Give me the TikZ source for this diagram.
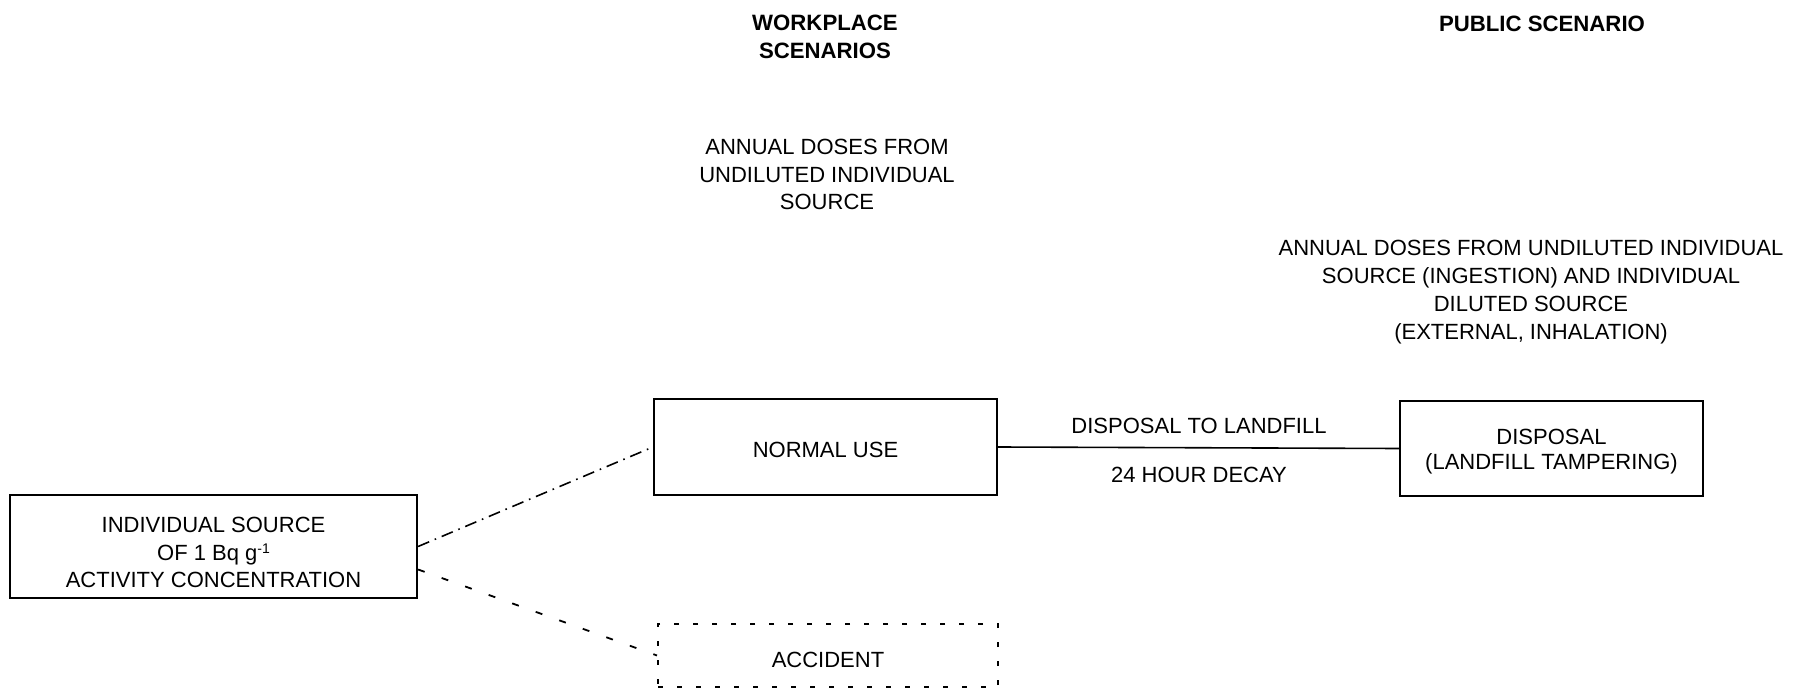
\documentclass[tikz,border=0pt]{standalone}
\usepackage{fontspec}
\setmainfont{Liberation Sans}
\begin{document}
\begin{tikzpicture}[x=0.5pt,y=-0.5pt,
  every node/.style={font=\fontsize{11}{13.9}\selectfont, align=center},
  boxnode/.style={draw, line width=1.1pt, inner sep=0pt},
  lbl/.style={inner sep=0pt},
  ttl/.style={inner sep=0pt, font=\fontsize{11.1}{13.9}\selectfont\bfseries},
  dashdot/.style={line width=0.8pt, dash pattern=on 6pt off 3pt on 0.8pt off 3pt},
  sparse/.style={line width=0.9pt, dash pattern=on 3.5pt off 9pt},
  dashbox/.style={draw, line width=1pt, dash pattern=on 2.5pt off 7pt, inner sep=0pt}]
\useasboundingbox (0,0) rectangle (1796,690);
% boxes
\node[boxnode, minimum width=203.5pt, minimum height=51.5pt,
  label={[lbl, yshift=-3pt]center:{INDIVIDUAL SOURCE\\OF 1 Bq g\raisebox{0.6ex}{\scriptsize -1}\\ACTIVITY CONCENTRATION}}]
  (src) at (213.5,546.5) {};
\node[boxnode, minimum width=171.5pt, minimum height=48pt,
  label={[lbl, yshift=-1.7pt]center:{NORMAL USE}}] (normal) at (825.5,447) {};
\node[dashbox, minimum width=170pt, minimum height=31.5pt,
  label={[lbl, yshift=-2.2pt]center:{ACCIDENT}}] (acc) at (828,655.5) {};
\node[boxnode, minimum width=151.5pt, minimum height=47.5pt,
  label={[lbl, yshift=-1.4pt, font=\fontsize{11}{12.6}\selectfont]center:{DISPOSAL\\(LANDFILL TAMPERING)}}] (disp) at (1551.5,448.5) {};
% connectors
\draw[dashdot] (src.east) -- (normal.west);
\draw[sparse] ([yshift=-11.5pt]src.east) -- (acc.west);
\draw[line width=0.8pt] (normal.east) -- (disp.west);
% connector labels
\node[lbl] (l1) at (1199,426) {DISPOSAL TO LANDFILL};
\node[lbl] (l2) at (1199,475) {24 HOUR DECAY};
% headings
\node[ttl] (wt) at (825,37) {WORKPLACE\\SCENARIOS};
\node[lbl] (wd) at (827,174.5) {ANNUAL DOSES FROM\\UNDILUTED INDIVIDUAL\\SOURCE};
\node[ttl] (pt) at (1542,24) {PUBLIC SCENARIO};
\node[lbl] (pd) at (1531,292) {ANNUAL DOSES FROM UNDILUTED INDIVIDUAL\\SOURCE (INGESTION) AND INDIVIDUAL\\DILUTED SOURCE\\(EXTERNAL, INHALATION)};
\end{tikzpicture}
\end{document}
